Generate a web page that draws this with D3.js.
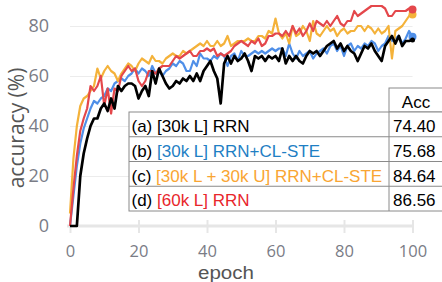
<!DOCTYPE html>
<html lang="en">
<head>
    <meta charset="UTF-8">
    <title>accuracy vs epoch</title>
    <script src="https://cdn.jsdelivr.net/npm/d3@7"></script>
    <style>
        body { margin: 0; background: #fff; }
        svg { display: block; }
    </style>
</head>
<body>
    <div id="container"></div>

    <script>
        // values, one per epoch (0..100)
        const accA = [0, 0, 0, 20, 29, 35, 40, 43, 43, 47, 49, 46, 51, 47, 56, 54, 56, 57, 57, 56,
            51, 54, 56, 52, 62, 57, 63, 60, 57, 55, 56, 58, 57, 59, 58, 60, 58, 61, 58, 62,
            64, 66, 62, 59, 49, 65, 68, 65, 68, 66, 67, 69, 66, 62, 68, 67, 68, 66, 68, 67,
            68, 66, 71, 65, 68, 66, 68, 66, 65, 68, 70, 69, 70, 68, 70, 72, 73, 74, 71, 73,
            70, 72, 70, 69, 66, 69, 72, 71, 73, 70, 68, 66, 72, 74, 76, 73, 76, 72, 74, 74, 74.4]
        const accB = [0, 12, 24, 33, 39, 43, 47, 50, 49, 51, 52, 55, 54, 57, 58, 59, 58, 60, 61, 63,
            61, 63, 62, 60, 64, 61, 62, 60, 62, 63, 65, 64, 66, 65, 62, 62, 66, 64, 69, 67,
            67, 66, 68, 67, 69, 68, 64, 68, 69, 66, 70, 68, 68, 69, 70, 69, 70, 69, 70, 71,
            70, 71, 71, 68, 73, 69, 67, 70, 68, 69, 70, 67, 69, 70, 71, 69, 72, 73, 70, 72,
            68, 72, 73, 70, 72, 71, 73, 72, 74, 73, 70, 72, 73, 76, 74, 75, 76, 73, 75, 78, 75.68]
        const accC = [5, 27, 40, 48, 51, 52, 54, 56, 63, 59, 62, 64, 62, 61, 58, 61, 63, 65, 64, 62,
            65, 67, 66, 65, 68, 66, 66, 65, 67, 68, 69, 68, 68, 70, 69, 70, 71, 72, 73, 72,
            74, 72, 72, 74, 72, 73, 76, 72, 73, 74, 74, 74, 75, 74, 74, 76, 76, 75, 78, 77,
            83, 77, 75, 77, 73, 80, 76, 77, 80, 78, 74, 82, 77, 76, 78, 80, 78, 79, 76, 78,
            79, 77, 78, 78, 80, 80, 78, 80, 79, 77, 79, 77, 78, 80, 67, 78, 79, 80, 82, 84, 84.64]
        const accD = [0, 15, 28, 38, 43, 47, 56, 54, 56, 60, 48, 55, 45, 55, 54, 60, 62, 64, 62, 63,
            58, 56, 58, 62, 62, 61, 63, 64, 64, 64, 66, 68, 67, 68, 69, 70, 68, 68, 70, 70,
            71, 70, 71, 68, 69, 68, 69, 70, 72, 73, 74, 73, 72, 74, 73, 75, 72, 73, 76, 76,
            77, 77, 76, 78, 76, 80, 77, 79, 76, 78, 81, 78, 82, 81, 80, 82, 80, 82, 84, 81,
            80, 82, 82, 86, 84, 85, 86, 87, 88, 88, 88, 88, 87, 84, 84, 86, 86, 86, 86, 87, 86.56]

        const tags = ["(a)", "(b)", "(c)", "(d)"]
        const names = ["[30k L] RRN", "[30k L] RRN+CL-STE", "[30k L + 30k U] RRN+CL-STE", "[60k L] RRN"]
        const finalAcc = [74.40, 75.68, 84.64, 86.56]
        const xTicks = [0, 20, 40, 60, 80, 100]
        const yTicks = [0, 20, 40, 60, 80]

        const lineColors = ["#000000", "#4f8fe8", "#f4b23a", "#e4474b"]
        const textColors = ["#000000", "#1f7fc4", "#f9a533", "#e8262b"]

        const w = 442, h = 282
        const x = d3.scaleLinear([0, 100], [70, 412.5])
        const y = d3.scaleLinear([0, 80], [226, 26])
        const tickFont = "'Open Sans', 'DejaVu Sans', sans-serif"

        const svg = d3.create("svg").attr("width", w).attr("height", h)

        // horizontal grid + y labels
        const yAx = svg.append("g").attr("transform", `translate(${x(0)},0)`)
            .call(d3.axisLeft(y).tickValues(yTicks).tickSize(-(x(100) - x(0))).tickPadding(21))
        yAx.select(".domain").remove()
        yAx.selectAll("line").attr("stroke", "#ececec").attr("stroke-width", 1.2)
        yAx.selectAll("text").attr("fill", "#7a7c86").style("font-family", tickFont).style("font-size", "18px")

        // x axis: thick zero line, tick marks, labels
        const xAx = svg.append("g").attr("transform", `translate(0,${y(0)})`)
            .call(d3.axisBottom(x).tickValues(xTicks).tickSize(7).tickPadding(12))
        xAx.select(".domain").attr("d", `M${x(0) - 3},0H${x(100)}`).attr("stroke", "#e6e6e6").attr("stroke-width", 3)
        xAx.selectAll("line").attr("y1", -6).attr("stroke", "#e6e6e6").attr("stroke-width", 2)
        xAx.selectAll("text").attr("fill", "#7a7c86").style("font-family", tickFont).style("font-size", "16.5px")

        // axis titles (epoch stretched to the reference width, height kept small to clear the ticks)
        svg.append("text").attr("x", 198).attr("y", 278.5)
            .attr("textLength", 56).attr("lengthAdjust", "spacingAndGlyphs")
            .attr("fill", "#555").style("font-family", "'Liberation Sans', Arial, sans-serif")
            .style("font-size", "17.5px").text("epoch")
        svg.append("text").attr("transform", `translate(24,128) rotate(-90)`).attr("text-anchor", "middle")
            .attr("fill", "#555").style("font-family", tickFont).style("font-size", "21px").text("accuracy (%)")

        // lines, drawn so that black ends on top
        const series = [accB, accC, accD, accA]
        const order = [1, 2, 3, 0]
        const line = d3.line().x((d, i) => x(i)).y(d => y(d))
        series.forEach((s, k) => {
            const c = lineColors[order[k]]
            svg.append("path").datum(s).attr("d", line).attr("fill", "none")
                .attr("stroke", c).attr("stroke-width", order[k] == 0 ? 2.7 : 2.2)
                .attr("stroke-linejoin", "round")
            svg.append("circle").attr("cx", x(s.length - 1)).attr("cy", y(s[s.length - 1]))
                .attr("r", order[k] == 0 ? 2.5 : 4).attr("fill", c)
        })

        // results table
        const tLeft = 129, tDiv = 389, tRight = 446, tTop = 112, rowH = 24.75, headTop = 88
        const tableFont = "'Liberation Sans', Arial, sans-serif"
        const tbl = svg.append("g").style("font-family", tableFont).style("font-size", "17px")
        tbl.append("rect").attr("x", tDiv).attr("y", headTop).attr("width", tRight - tDiv).attr("height", tTop - headTop)
            .attr("fill", "#fff").attr("stroke", "#8a8a8a")
        tbl.append("rect").attr("x", tLeft).attr("y", tTop).attr("width", tRight - tLeft).attr("height", rowH * 4)
            .attr("fill", "#fff").attr("stroke", "#8a8a8a")
        tbl.append("text").attr("x", 416).attr("y", headTop + 19.5).attr("text-anchor", "middle").text("Acc")
        tbl.append("line").attr("x1", tDiv).attr("x2", tDiv).attr("y1", tTop).attr("y2", tTop + rowH * 4).attr("stroke", "#8a8a8a")

        const rows = tbl.selectAll("g.row").data(tags).join("g").attr("class", "row")
            .attr("transform", (d, i) => `translate(0,${tTop + i * rowH})`)
        rows.filter((d, i) => i > 0).append("line").attr("x1", tLeft).attr("x2", tRight)
            .attr("stroke", "#8a8a8a")
        const lab = rows.append("text").attr("x", tLeft + 2.5).attr("y", 20)
        lab.append("tspan").attr("fill", "#000").text(d => d + " ")
        lab.append("tspan").attr("fill", (d, i) => textColors[i]).text((d, i) => names[i])
        rows.append("text").attr("x", tDiv + 4).attr("y", 20).attr("fill", "#000")
            .text((d, i) => finalAcc[i].toFixed(2))

        container.append(svg.node())
    </script>
</body>
</html>
